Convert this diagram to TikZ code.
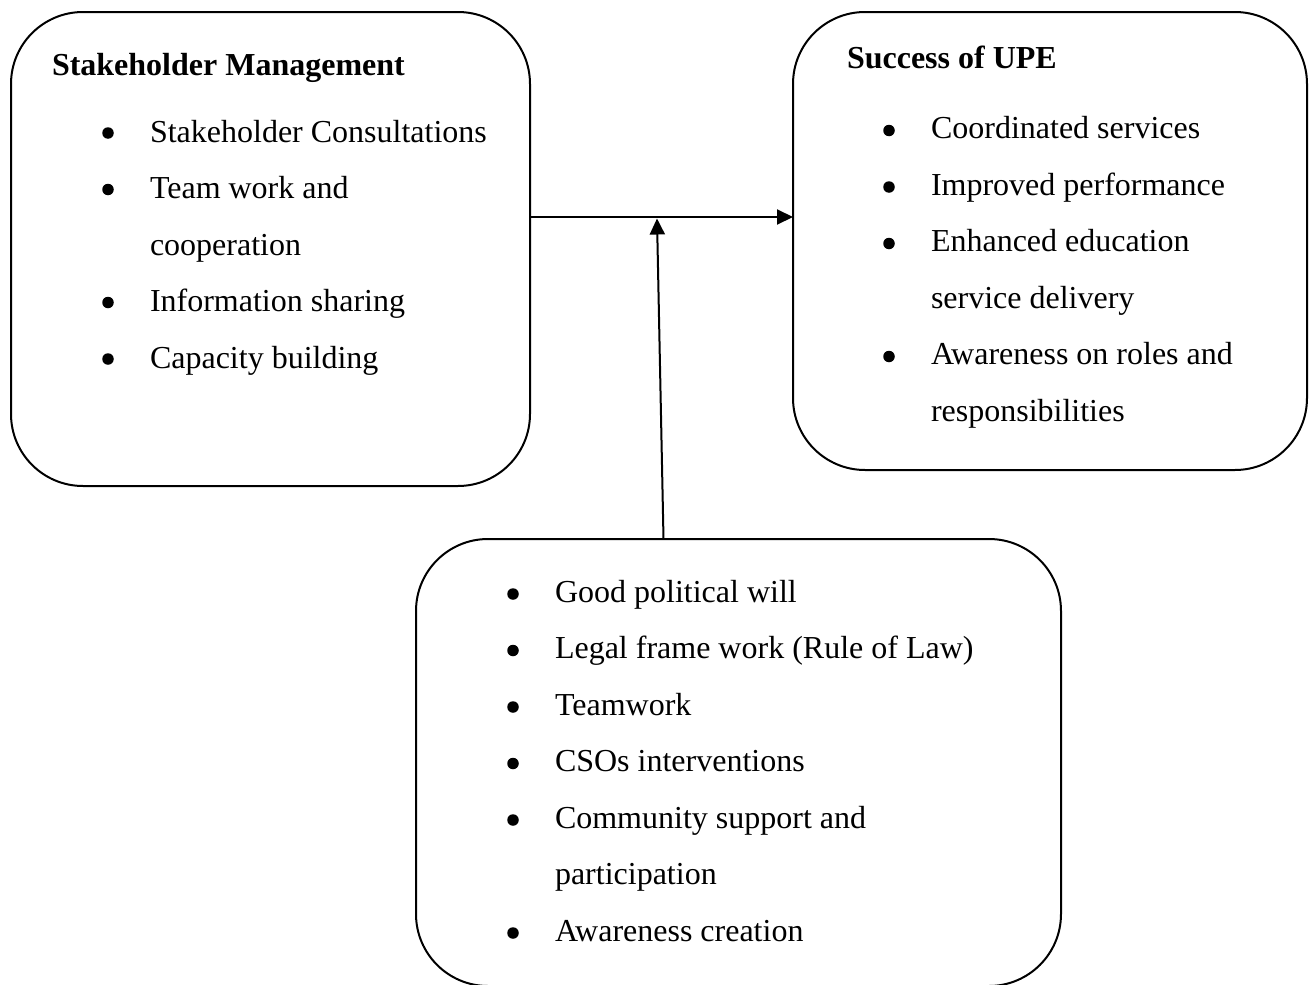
\documentclass[tikz,border=0pt]{standalone}
\usepackage{fontspec}
\setmainfont{Liberation Serif}
\usetikzlibrary{arrows.meta}
\begin{document}
\begin{tikzpicture}[x=1pt,y=-1pt,
  box/.style={draw, line width=2pt, rounded corners=72pt, inner sep=0pt, outer sep=0pt},
  txt/.style={anchor=base west, inner sep=0pt, outer sep=0pt, font=\fontsize{32}{38}\selectfont},
  ttl/.style={txt, font=\fontsize{32}{38}\selectfont\bfseries},
  arr/.style={line width=2pt, -{Triangle[length=16pt,width=15pt]}},
  bul/.style={circle, fill, inner sep=0pt, minimum size=11.5pt}]
\useasboundingbox (0,0) rectangle (1310,985);
\clip (0,0) rectangle (1310,985);

% boxes
\node[box, minimum width=519pt, minimum height=474pt] (sm) at (270.5,249) {};
\node[box, minimum width=514pt, minimum height=458pt] (upe) at (1050,241) {};
\node[box, minimum width=645pt, minimum height=447pt] (fac) at (738.5,762.5) {};

% box 1
\node[ttl] (t1) at (52,75) {Stakeholder Management};
\node[bul] (b11) at (108,133) {};
\node[txt] (s1) at (150,142) {Stakeholder Consultations};
\node[bul] (b12) at (108,189.5) {};
\node[txt] (s2) at (150,198.5) {Team work and};
\node[txt] (s3) at (150,255) {cooperation};
\node[bul] (b13) at (108,302.5) {};
\node[txt] (s4) at (150,311.5) {Information sharing};
\node[bul] (b14) at (108,359) {};
\node[txt] (s5) at (150,368) {Capacity building};

% box 2
\node[ttl] (t2) at (847,68) {Success of UPE};
\node[bul] (b21) at (889,130.5) {};
\node[txt] (u1) at (931,138.5) {Coordinated services};
\node[bul] (b22) at (889,187) {};
\node[txt] (u2) at (931,195) {Improved performance};
\node[bul] (b23) at (889,243.5) {};
\node[txt] (u3) at (931,251.5) {Enhanced education};
\node[txt] (u4) at (931,308) {service delivery};
\node[bul] (b24) at (889,356.5) {};
\node[txt] (u5) at (931,364.5) {Awareness on roles and};
\node[txt] (u6) at (931,421) {responsibilities};

% box 3
\node[bul] (b31) at (513,594) {};
\node[txt] (f1) at (555,602) {Good political will};
\node[bul] (b32) at (513,650.5) {};
\node[txt] (f2) at (555,658.5) {Legal frame work (Rule of Law)};
\node[bul] (b33) at (513,707) {};
\node[txt] (f3) at (555,715) {Teamwork};
\node[bul] (b34) at (513,763.5) {};
\node[txt] (f4) at (555,771.5) {CSOs interventions};
\node[bul] (b35) at (513,820) {};
\node[txt] (f5) at (555,828) {Community support and};
\node[txt] (f6) at (555,884.5) {participation};
\node[bul] (b36) at (513,933) {};
\node[txt] (f7) at (555,941) {Awareness creation};

% connectors
\coordinate (hub) at (657,217);
\coordinate (hubtip) at (657,218.5);
\coordinate (fbot) at (663.5,539);
\draw[arr] (sm.east |- hub) -- (upe.west |- hub);
\draw[arr] (fbot) -- (hubtip);
\end{tikzpicture}
\end{document}
